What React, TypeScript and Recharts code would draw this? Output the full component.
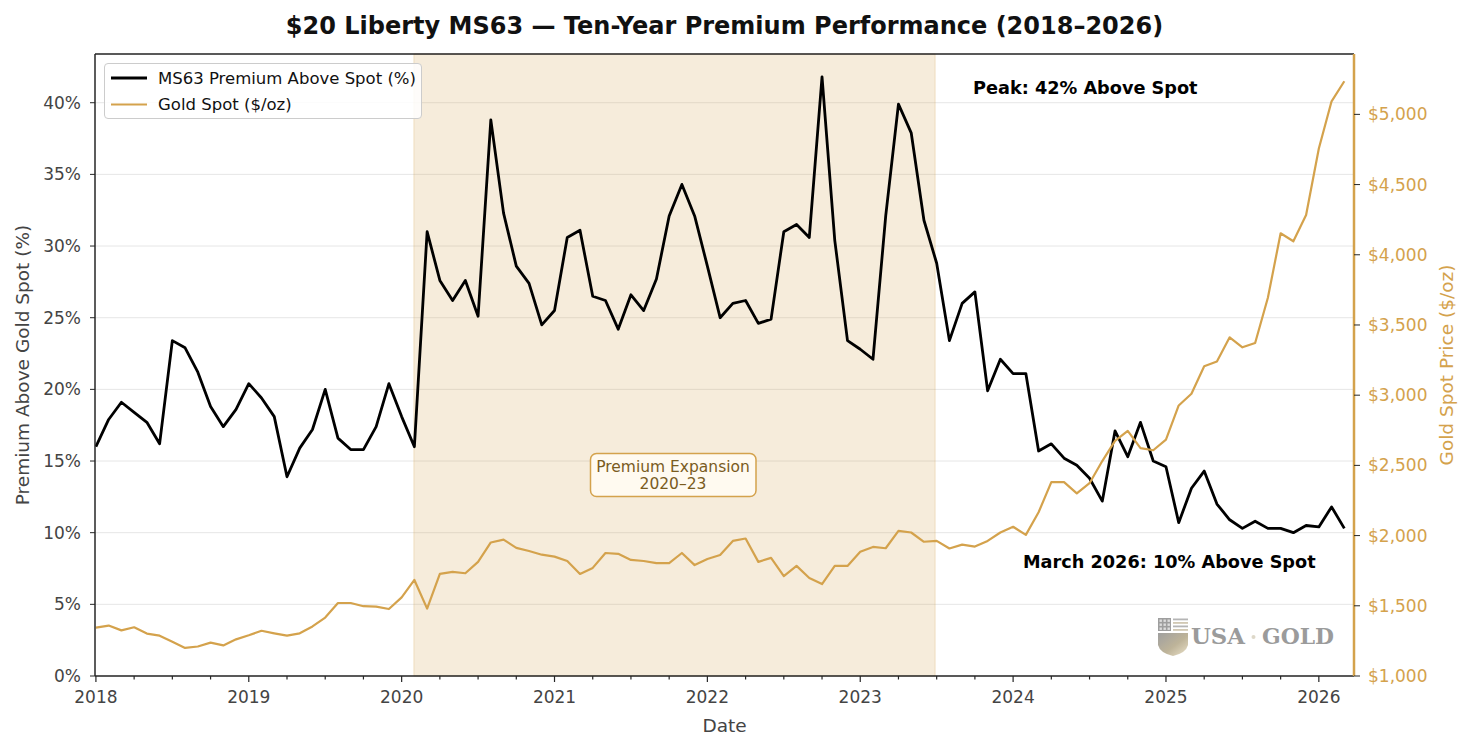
import React from 'react';
import {
  ComposedChart,
  Line,
  XAxis,
  YAxis,
  CartesianGrid,
  ReferenceArea,
  ReferenceLine,
  Legend,
} from 'recharts';

// Monthly series, Jan 2018 through Mar 2026
const premium = [
  16.0, 17.9, 19.1, 18.4, 17.7, 16.2, 23.4, 22.9, 21.2, 18.8, 17.4, 18.6,
  20.4, 19.4, 18.1, 13.9, 15.9, 17.2, 20.0, 16.6, 15.8, 15.8, 17.4, 20.4,
  18.1, 16.0, 31.0, 27.6, 26.2, 27.6, 25.1, 38.8, 32.3, 28.6, 27.4, 24.5,
  25.5, 30.6, 31.1, 26.5, 26.2, 24.2, 26.6, 25.5, 27.7, 32.1, 34.3, 32.1,
  28.6, 25.0, 26.0, 26.2, 24.6, 24.9, 31.0, 31.5, 30.6, 41.8, 30.4, 23.4,
  22.8, 22.1, 32.1, 39.9, 37.9, 31.8, 28.8, 23.4, 26.0, 26.8, 19.9, 22.1,
  21.1, 21.1, 15.7, 16.2, 15.2, 14.7, 13.8, 12.2, 17.1, 15.3, 17.7, 15.0,
  14.6, 10.7, 13.1, 14.3, 12.0, 10.9, 10.3, 10.8, 10.3, 10.3, 10.0, 10.5,
  10.4, 11.8, 10.3,
];

const goldSpot = [
  1345, 1359, 1325, 1347, 1302, 1287, 1244, 1200, 1210, 1238, 1218, 1261,
  1290, 1322, 1304, 1287, 1304, 1353, 1416, 1520, 1520, 1497, 1494, 1477,
  1560, 1684, 1480, 1727, 1741, 1732, 1813, 1951, 1971, 1913, 1890, 1864,
  1850, 1819, 1727, 1770, 1876, 1870, 1827, 1819, 1804, 1804, 1876, 1790,
  1833, 1862, 1962, 1979, 1813, 1841, 1712, 1784, 1698, 1655, 1784, 1784,
  1885, 1919, 1910, 2034, 2022, 1956, 1962, 1908, 1936, 1922, 1962, 2022,
  2063, 2005, 2166, 2381, 2381, 2301, 2373, 2531, 2674, 2746, 2623, 2608,
  2683, 2927, 3010, 3206, 3240, 3412, 3341, 3372, 3694, 4153, 4096, 4283,
  4757, 5093, 5236,
];

const startYear = 2018;
const yearTicks = [2018, 2019, 2020, 2021, 2022, 2023, 2024, 2025, 2026];
const quarterTicks = yearTicks.flatMap((y) => [y, y + 0.25, y + 0.5, y + 0.75]).filter((v) => v <= 2026.2);
const premiumTicks = [0, 5, 10, 15, 20, 25, 30, 35, 40];
const goldTicks = [1000, 1500, 2000, 2500, 3000, 3500, 4000, 4500, 5000];

const expansionStart = 2020.08;
const expansionEnd = 2023.49;
const premiumMax = 43.4;
const goldRange = [1000, 5430];

const GOLD = '#D4A24C';
const INK = '#444444';
const SPINE = '#262626';
const FONT = '"DejaVu Sans", Verdana, sans-serif';

const data = premium.map((p, i) => ({
  date: startYear + i / 12,
  premium: p,
  gold: goldSpot[i],
}));

const DateTick = ({ x, y, payload }: any) => {
  const v = payload.value as number;
  const major = Math.abs(v - Math.round(v)) < 1e-6;
  return (
    <g>
      <line x1={x} x2={x} y1={y} y2={y + (major ? 6 : 3.5)} stroke={SPINE} strokeWidth={1.2} />
      {major && (
        <text x={x} y={y + 15} dy="0.71em" textAnchor="middle" fill={INK} fontSize={17} fontFamily={FONT}>
          {Math.round(v)}
        </text>
      )}
    </g>
  );
};

const legendItems = [
  { label: 'MS63 Premium Above Spot (%)', color: '#000', width: 2.8 },
  { label: 'Gold Spot ($/oz)', color: GOLD, width: 2.2 },
];

const LegendBox = () => (
  <div
    style={{
      width: 316,
      height: 54,
      border: '1px solid #cccccc',
      borderRadius: 4,
      background: 'rgba(255,255,255,0.85)',
      boxSizing: 'content-box',
    }}
  >
    <svg width={316} height={54}>
      {legendItems.map((it, i) => (
        <g key={it.label} transform={`translate(0, ${14 + i * 26.5})`}>
          <line x1={6} x2={42} y1={0} y2={0} stroke={it.color} strokeWidth={it.width} />
          <text x={53} y={0} dy="0.35em" fontSize={16.5} fontFamily={FONT} fill="#111">
            {it.label}
          </text>
        </g>
      ))}
    </svg>
  </div>
);

const Logo = () => (
  <g opacity={0.85}>
    <defs>
      <linearGradient id="shieldFill" x1="0" y1="0" x2="1" y2="1">
        <stop offset="0%" stopColor="#8f8f8f" />
        <stop offset="55%" stopColor="#b3a788" />
        <stop offset="100%" stopColor="#e7dcc0" />
      </linearGradient>
    </defs>
    <rect x={1158} y={618} width={13} height={13} fill="#8e8e8e" />
    {[0, 1, 2].map((r) =>
      [0, 1, 2].map((c) => (
        <rect key={`${r}-${c}`} x={1159.5 + c * 4} y={619.5 + r * 4} width={2.4} height={2.4} fill="#d6d6d6" />
      ))
    )}
    {[0, 1, 2, 3].map((k) => (
      <rect key={k} x={1173} y={618.5 + k * 3.5} width={15} height={1.8} fill={k % 2 ? '#c9bfa6' : '#a9a9a9'} />
    ))}
    <path d="M1158 633 H1188 V645 Q1186 653 1173 656 Q1160 653 1158 645 Z" fill="url(#shieldFill)" />
    <text x={1191} y={644} fontSize={22} fontWeight="bold" fontFamily='"DejaVu Serif", serif' fill="#8a8a8a" textLength={54} lengthAdjust="spacingAndGlyphs">
      USA
    </text>
    <circle cx={1253.5} cy={637} r={2} fill="#d9d2c0" />
    <text x={1262} y={644} fontSize={22} fontWeight="bold" fontFamily='"DejaVu Serif", serif' fill="#8a8a8a" textLength={72} lengthAdjust="spacingAndGlyphs">
      GOLD
    </text>
  </g>
);

export default function App() {
  return (
    <div style={{ position: 'absolute', left: 0, top: 0, width: 1472, height: 750, background: '#fff', fontFamily: FONT }}>
      <ComposedChart width={1472} height={750} data={data} margin={{ top: 54, right: 0, bottom: 0, left: 0 }}>
        <ReferenceArea
          yAxisId="left"
          x1={expansionStart}
          x2={expansionEnd}
          fill={GOLD}
          fillOpacity={0.2}
          stroke={GOLD}
          strokeOpacity={0.25}
        />
        <CartesianGrid yAxisId="left" vertical={false} stroke="#e6e6e6" strokeWidth={1} />
        <XAxis
          dataKey="date"
          type="number"
          domain={[2017.994, 2026.23]}
          ticks={quarterTicks}
          interval={0}
          tick={<DateTick />}
          tickLine={false}
          tickSize={0}
          tickMargin={0}
          height={74}
          axisLine={{ stroke: SPINE, strokeWidth: 1.5 }}
          allowDataOverflow
        />
        <YAxis
          yAxisId="left"
          width={95}
          domain={[0, premiumMax]}
          ticks={premiumTicks}
          tickFormatter={(v: number) => `${v}%`}
          tick={{ fill: INK, fontSize: 17, fontFamily: FONT }}
          tickSize={5}
          tickMargin={9}
          tickLine={{ stroke: SPINE }}
          axisLine={{ stroke: SPINE, strokeWidth: 1.5 }}
          allowDataOverflow
        />
        <YAxis
          yAxisId="right"
          orientation="right"
          width={118}
          domain={goldRange}
          ticks={goldTicks}
          tickFormatter={(v: number) => `$${v.toLocaleString('en-US')}`}
          tick={{ fill: GOLD, fontSize: 17, fontFamily: FONT }}
          tickSize={6}
          tickMargin={8}
          tickLine={{ stroke: SPINE }}
          axisLine={{ stroke: GOLD, strokeWidth: 2.5 }}
          allowDataOverflow
        />
        <ReferenceLine yAxisId="left" y={premiumMax} stroke={SPINE} strokeWidth={1.5} />
        <Line
          yAxisId="left"
          dataKey="premium"
          stroke="#000"
          strokeWidth={2.8}
          dot={false}
          strokeLinejoin="round"
          isAnimationActive={false}
        />
        <Line
          yAxisId="right"
          dataKey="gold"
          stroke={GOLD}
          strokeWidth={2.2}
          dot={false}
          strokeLinejoin="round"
          isAnimationActive={false}
        />
        <Legend
          layout="horizontal"
          verticalAlign="middle"
          align="center"
          content={<LegendBox />}
          wrapperStyle={{ position: 'absolute', left: 104, top: 63, width: 318, height: 56 }}
        />
      </ComposedChart>

      <svg
        width={1472}
        height={750}
        style={{ position: 'absolute', left: 0, top: 0, pointerEvents: 'none' }}
        fontFamily={FONT}
      >
        <text x={724.5} y={34} textAnchor="middle" fontSize={24} fontWeight="bold" fill="#111">
          $20 Liberty MS63 — Ten-Year Premium Performance (2018–2026)
        </text>
        <text x={724.5} y={732} textAnchor="middle" fontSize={18.5} fill={INK}>
          Date
        </text>
        <text transform="translate(29 365) rotate(-90)" textAnchor="middle" fontSize={18.5} fill={INK}>
          Premium Above Gold Spot (%)
        </text>
        <text transform="translate(1453 365) rotate(-90)" textAnchor="middle" fontSize={18.5} fill={GOLD}>
          Gold Spot Price ($/oz)
        </text>

        <rect x={590.5} y={453.5} width={165.5} height={43} rx={6} fill="#fffaf0" stroke={GOLD} strokeWidth={1.5} />
        <text x={673} y={467} dy="0.35em" textAnchor="middle" fontSize={15.5} fill="#7a5c1e">
          Premium Expansion
        </text>
        <text x={673} y={484} dy="0.35em" textAnchor="middle" fontSize={15.5} fill="#7a5c1e">
          2020–23
        </text>

        <text x={973} y={94} fontSize={17.7} fontWeight="bold" fill="#000">
          Peak: 42% Above Spot
        </text>
        <text x={1023} y={568} fontSize={17.7} fontWeight="bold" fill="#000">
          March 2026: 10% Above Spot
        </text>

        <Logo />
      </svg>
    </div>
  );
}
